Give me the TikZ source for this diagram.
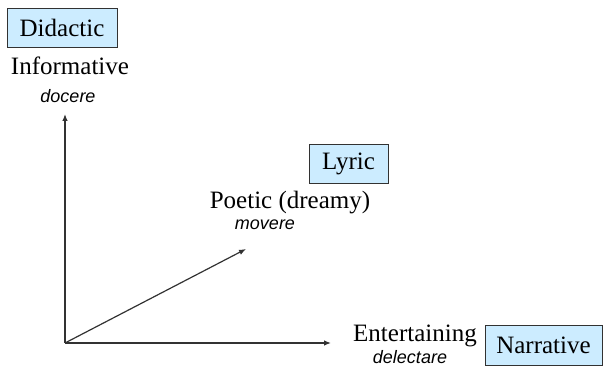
\documentclass[tikz,border=0pt]{standalone}
\usepackage{fontspec}
\setmainfont{Liberation Serif}
\newfontfamily\latinfont{Liberation Sans}
\usepackage{tikz}
\usetikzlibrary{arrows.meta}
\usetikzlibrary{positioning}
\definecolor{boxblue}{RGB}{204,236,255}
\definecolor{axisgray}{RGB}{50,50,50}
\tikzset{genre/.style={draw=axisgray, fill=boxblue, line width=0.9pt, inner sep=0pt, font=\fontsize{25}{28}\selectfont}}
\tikzset{func/.style={inner sep=0pt, font=\fontsize{25}{28}\selectfont}}
\tikzset{latin/.style={inner sep=0pt, font=\latinfont\itshape\fontsize{18}{20}\selectfont}}
\tikzset{line/.style={draw=axisgray, line width=1.2pt, -{Latex[length=7pt,width=5.5pt]}}}

\begin{document}
\begin{tikzpicture}[x=1pt,y=1pt]
\useasboundingbox (0,0) rectangle (606,370);
\node [genre, minimum width=110pt, minimum height=39pt] (didactic) at (62,342.5) {Didactic};
\node [func] (informative) at (70,304) {Informative};
\node [latin] (docere) at (68,274) {docere};
\node [genre, minimum width=79pt, minimum height=39pt] (lyric) at (348.5,206.5) {Lyric};
\node [func] (poetic) at (290,167) {Poetic (dreamy)};
\node [latin] (movere) at (265,145) {movere};
\node [func] (entertaining) at (415,34) {Entertaining};
\node [latin] (delectare) at (410,13) {delectare};
\node [genre, minimum width=117pt, minimum height=40pt] (narrative) at (543.5,25) {Narrative};
%
\coordinate (o) at (65,27);
\coordinate (yend) at (65,256);
\coordinate (xend) at (331,27);
\coordinate (dend) at (246,121);
\path [line] (o) -- (yend);
\path [line] (o) -- (xend);
\path [line] (o) -- (dend);
\end{tikzpicture}
\end{document}
